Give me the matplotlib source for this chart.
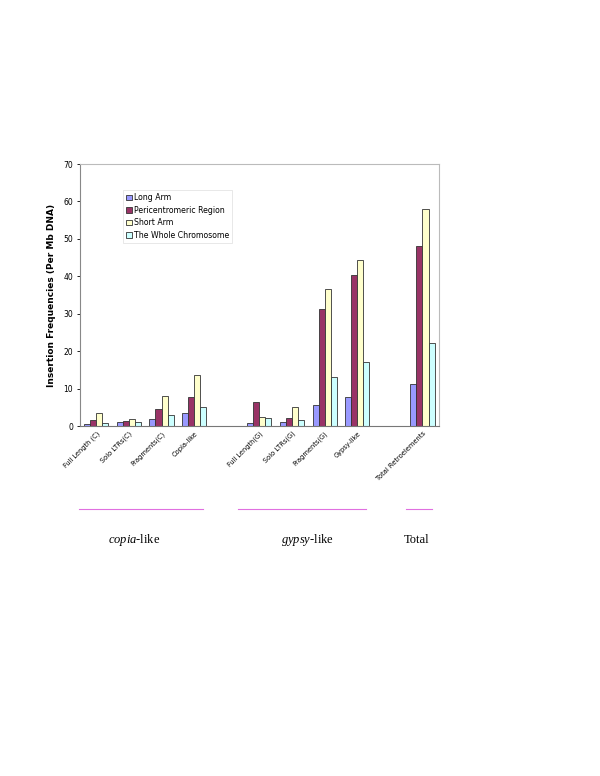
import numpy as np
import matplotlib
matplotlib.use("Agg")
import matplotlib.pyplot as plt
from matplotlib.lines import Line2D

plt.rcParams["mathtext.fontset"] = "custom"
plt.rcParams["mathtext.it"] = "Liberation Serif:italic"
plt.rcParams["mathtext.rm"] = "Liberation Serif"

# categories (blank slots separate the groups)
categories = ["Full Length (C)", "Solo LTRs(C)", "Fragments(C)", "Copia-like", "",
              "Full Length(G)", "Solo LTRs(G)", "Fragments(G)", "Gypsy-like", "",
              "Total Retroelements"]

long_arm = [0.5, 1.0, 2.0, 3.6, np.nan, 0.8, 1.1, 5.5, 7.7, np.nan, 11.2]
pericentromeric = [1.7, 1.4, 4.5, 7.7, np.nan, 6.5, 2.1, 31.4, 40.3, np.nan, 48.0]
short_arm = [3.6, 2.0, 8.1, 13.7, np.nan, 2.5, 5.1, 36.6, 44.3, np.nan, 58.0]
whole_chrom = [0.9, 1.2, 3.0, 5.2, np.nan, 2.1, 1.6, 13.2, 17.1, np.nan, 22.3]

series_names = ["Long Arm", "Pericentromeric Region", "Short Arm", "The Whole Chromosome"]
colors = ["#9999FF", "#993366", "#FFFFCC", "#CCFFFF"]

fig = plt.figure(figsize=(6, 7.76), dpi=100)
ax = fig.add_axes([0.1333, 0.451, 0.598, 0.3376])

x = np.arange(len(categories))
w = 0.185
for i, (vals, name, c) in enumerate(zip([long_arm, pericentromeric, short_arm, whole_chrom],
                                         series_names, colors)):
    ax.bar(x + (i - 1.5) * w, vals, width=w, color=c, edgecolor="#333333",
           linewidth=0.6, label=name)

ax.set_xlim(-0.5, len(categories) - 0.5)
ax.set_ylim(0, 70)
ax.set_yticks(range(0, 71, 10))
ax.tick_params(axis="y", labelsize=5.5, length=2, width=0.6, pad=3)
ax.set_xticks([i for i, c in enumerate(categories) if c])
ax.set_xticklabels([c for c in categories if c], rotation=45, ha="right",
                   rotation_mode="anchor", fontsize=4.8)
ax.tick_params(axis="x", length=0, pad=3)
for s in ["top", "right"]:
    ax.spines[s].set_color("#BBBBBB")
    ax.spines[s].set_linewidth(0.8)
ax.spines["left"].set_color("#888888")
ax.spines["left"].set_linewidth(0.8)
ax.spines["bottom"].set_color("#777777")
ax.spines["bottom"].set_linewidth(0.8)

ax.set_ylabel("Insertion Frequencies (Per Mb DNA)", fontsize=6.5, fontweight="bold", labelpad=5)

leg = ax.legend(loc="upper left", bbox_to_anchor=(0.12, 0.9), fontsize=5.6,
                frameon=True, fancybox=False, handlelength=0.7, handleheight=0.7,
                handletextpad=0.3, borderpad=0.4, labelspacing=0.45, borderaxespad=0)
leg.get_frame().set_edgecolor("#DDDDDD")
leg.get_frame().set_linewidth(0.6)

# group brackets and names under the chart
y_line = 1 - 509 / 776
for x0, x1 in [(79, 203), (238, 366), (406, 432)]:
    fig.add_artist(Line2D([x0 / 600, x1 / 600], [y_line, y_line],
                          transform=fig.transFigure, color="#E070E0", linewidth=0.8))

y_txt = 1 - 540 / 776
fig.text(134 / 600, y_txt, r"$\mathit{copia}$-like", ha="center", va="center",
         fontsize=9, family="Liberation Serif")
fig.text(307 / 600, y_txt, r"$\mathit{gypsy}$-like", ha="center", va="center",
         fontsize=9, family="Liberation Serif")
fig.text(417 / 600, y_txt, "Total", ha="center", va="center",
         fontsize=9, family="Liberation Serif")

fig.savefig("out.png", dpi=100)
